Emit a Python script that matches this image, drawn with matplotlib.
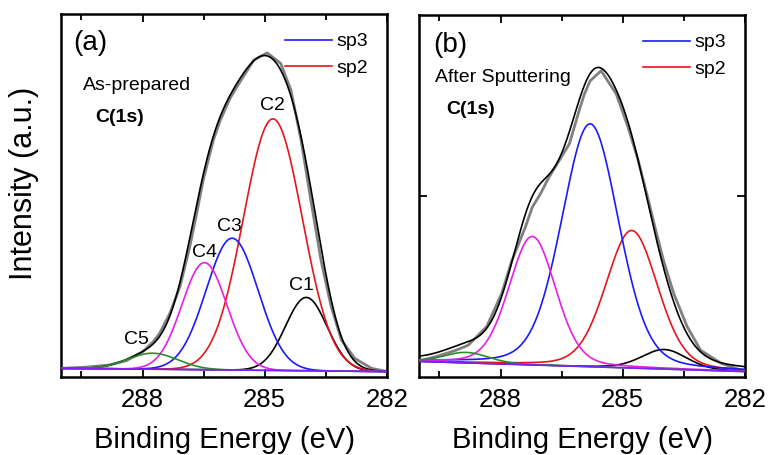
import numpy as np
import matplotlib
matplotlib.use("Agg")
import matplotlib.pyplot as plt
from matplotlib.lines import Line2D

plt.rcParams['font.family'] = ['Liberation Sans', 'DejaVu Sans']

# --- (a) as-prepared: measured C(1s) spectrum ---
energy_a = [290.0, 289.4, 288.82, 288.40, 287.99, 287.74, 287.58, 287.33, 287.08,
            286.84, 286.67, 286.51, 286.26, 286.09, 285.85, 285.68, 285.27, 284.94,
            284.61, 284.36, 284.11, 283.87, 283.62, 283.37, 283.12, 282.79, 282.38,
            282.0]
counts_a = [2.4, 2.7, 3.3, 4.5, 7.0, 9.7, 12.0, 17.5, 24.9,
            35.9, 45.1, 54.3, 65.3, 70.8, 76.8, 80.0, 87.3, 89.3,
            86.4, 79.1, 65.3, 48.8, 32.2, 19.4, 10.2, 5.1, 2.4,
            1.5]

# fitted components (a): C1..C5
labels_a = ["C1", "C2", "C3", "C4", "C5"]
center_a = [283.98, 284.80, 285.80, 286.48, 287.75]
height_a = [20.2, 69.3, 36.3, 29.5, 4.4]
fwhm_a = [1.2, 1.7, 1.5, 1.3, 1.45]
mix_a = 0.0   # Lorentzian fraction of the line shape
bg_a = [2.4, 1.5]  # linear background at 290 eV and 282 eV

# --- (b) after sputtering ---
energy_b = [290.08, 289.59, 289.09, 288.79, 288.34, 287.97, 287.72, 287.39, 287.22,
            287.02, 286.81, 286.56, 286.31, 286.19, 286.07, 285.94, 285.80, 285.53,
            285.16, 284.87, 284.62, 284.41, 284.21, 284.00, 283.75, 283.42, 283.09,
            282.59, 282.10]
counts_b = [4.2, 5.6, 7.4, 8.8, 13.9, 23.1, 32.2, 41.4, 46.9,
            50.6, 55.2, 59.8, 64.4, 69.0, 73.6, 78.2, 81.8, 84.6,
            78.2, 69.0, 59.8, 50.6, 41.4, 32.2, 23.1, 13.9, 7.4,
            3.8, 1.9]

center_b = [283.98, 284.78, 285.80, 287.22, 288.84]
height_b = [5.4, 38.0, 67.1, 35.5, 2.9]
fwhm_b = [1.3, 1.5, 1.65, 1.35, 1.3]
mix_b = 0.2
bg_b = [4.3, 1.5]

colors = ["black", "#e8141c", "#1a1aff", "#e61ee6", "#2e8b2e"]


def line_shape(x, c, h, w, eta):
    # pseudo-Voigt: Gaussian/Lorentzian mix with common FWHM
    u = (x - c) / w
    return h * ((1 - eta) * np.exp(-4 * np.log(2) * u ** 2) + eta / (1 + 4 * u ** 2))


def draw_panel(ax, energy, counts, centers, heights, fwhms, eta, bg):
    x = np.linspace(290, 282, 600)
    base = bg[1] + (x - 282) * (bg[0] - bg[1]) / 8.0
    comps = [line_shape(x, c, h, w, eta) for c, h, w in zip(centers, heights, fwhms)]
    ax.plot(energy, counts, color="#808080", lw=2.0, zorder=2)
    ax.plot(x, base + np.sum(comps, axis=0), color="black", lw=1.2, zorder=3)
    for comp, col in zip(comps, colors):
        ax.plot(x, base + comp, color=col, lw=1.2, zorder=4)
    ax.plot(x, base, color="#7f1fff", lw=1.2, zorder=4)

    ax.set_xlim(290, 282)
    ax.set_ylim(0, 100)
    ax.set_xticks([288, 285, 282])
    ax.set_xticks([289.5, 286.5, 283.5], minor=True)
    ax.tick_params(axis="x", which="both", direction="in", top=True,
                   labelsize=18.5, width=1.3, pad=8)
    ax.tick_params(axis="x", which="major", length=6)
    ax.tick_params(axis="x", which="minor", length=4.5)
    for sp in ax.spines.values():
        sp.set_linewidth(1.8)
    ax.set_xlabel("Binding Energy (eV)", fontsize=21)
    ax.xaxis.set_label_coords(0.5, -0.136)

    handles = [Line2D([], [], color="#1a1aff", lw=1.2),
               Line2D([], [], color="#e8141c", lw=1.2)]
    ax.legend(handles, ["sp3", "sp2"], loc="upper right", frameon=False,
              fontsize=14, handlelength=2.4, handletextpad=0.25,
              labelspacing=0.45, bbox_to_anchor=(0.972, 0.975), borderaxespad=0.1)


fig = plt.figure(figsize=(7.73, 4.55), dpi=100)
ax_a = fig.add_axes([61 / 773, 78 / 455, 326 / 773, 363 / 455])
ax_b = fig.add_axes([419 / 773, 78 / 455, 326 / 773, 362 / 455])

draw_panel(ax_a, energy_a, counts_a, center_a, height_a, fwhm_a, mix_a, bg_a)
draw_panel(ax_b, energy_b, counts_b, center_b, height_b, fwhm_b, mix_b, bg_b)

ax_a.set_yticks([])
ax_b.set_yticks([50])
ax_b.tick_params(axis="y", direction="in", left=True, right=True,
                 labelleft=False, length=6, width=1.3)

fig.text(24 / 773, 1 - 183 / 455, "Intensity (a.u.)", rotation=90,
         fontsize=22, ha="center", va="center")

# panel (a) annotations
ax_a.text(0.037, 0.919, "(a)", transform=ax_a.transAxes, fontsize=20, va="center")
ax_a.text(0.067, 0.804, "As-prepared", transform=ax_a.transAxes, fontsize=14, va="center")
ax_a.text(0.104, 0.716, "C(1s)", transform=ax_a.transAxes, fontsize=14,
          fontweight="bold", va="center")
label_pos = {"C1": (284.11, 25.1), "C2": (284.81, 74.9), "C3": (285.86, 41.4),
             "C4": (286.49, 34.4), "C5": (288.16, 10.2)}
for name in labels_a:
    ax_a.text(*label_pos[name], name, fontsize=14, ha="center", va="center")

# panel (b) annotations
ax_b.text(0.043, 0.917, "(b)", transform=ax_b.transAxes, fontsize=20, va="center")
ax_b.text(0.049, 0.828, "After Sputtering", transform=ax_b.transAxes, fontsize=14, va="center")
ax_b.text(0.085, 0.738, "C(1s)", transform=ax_b.transAxes, fontsize=14,
          fontweight="bold", va="center")

fig.savefig("out.png", dpi=100)
